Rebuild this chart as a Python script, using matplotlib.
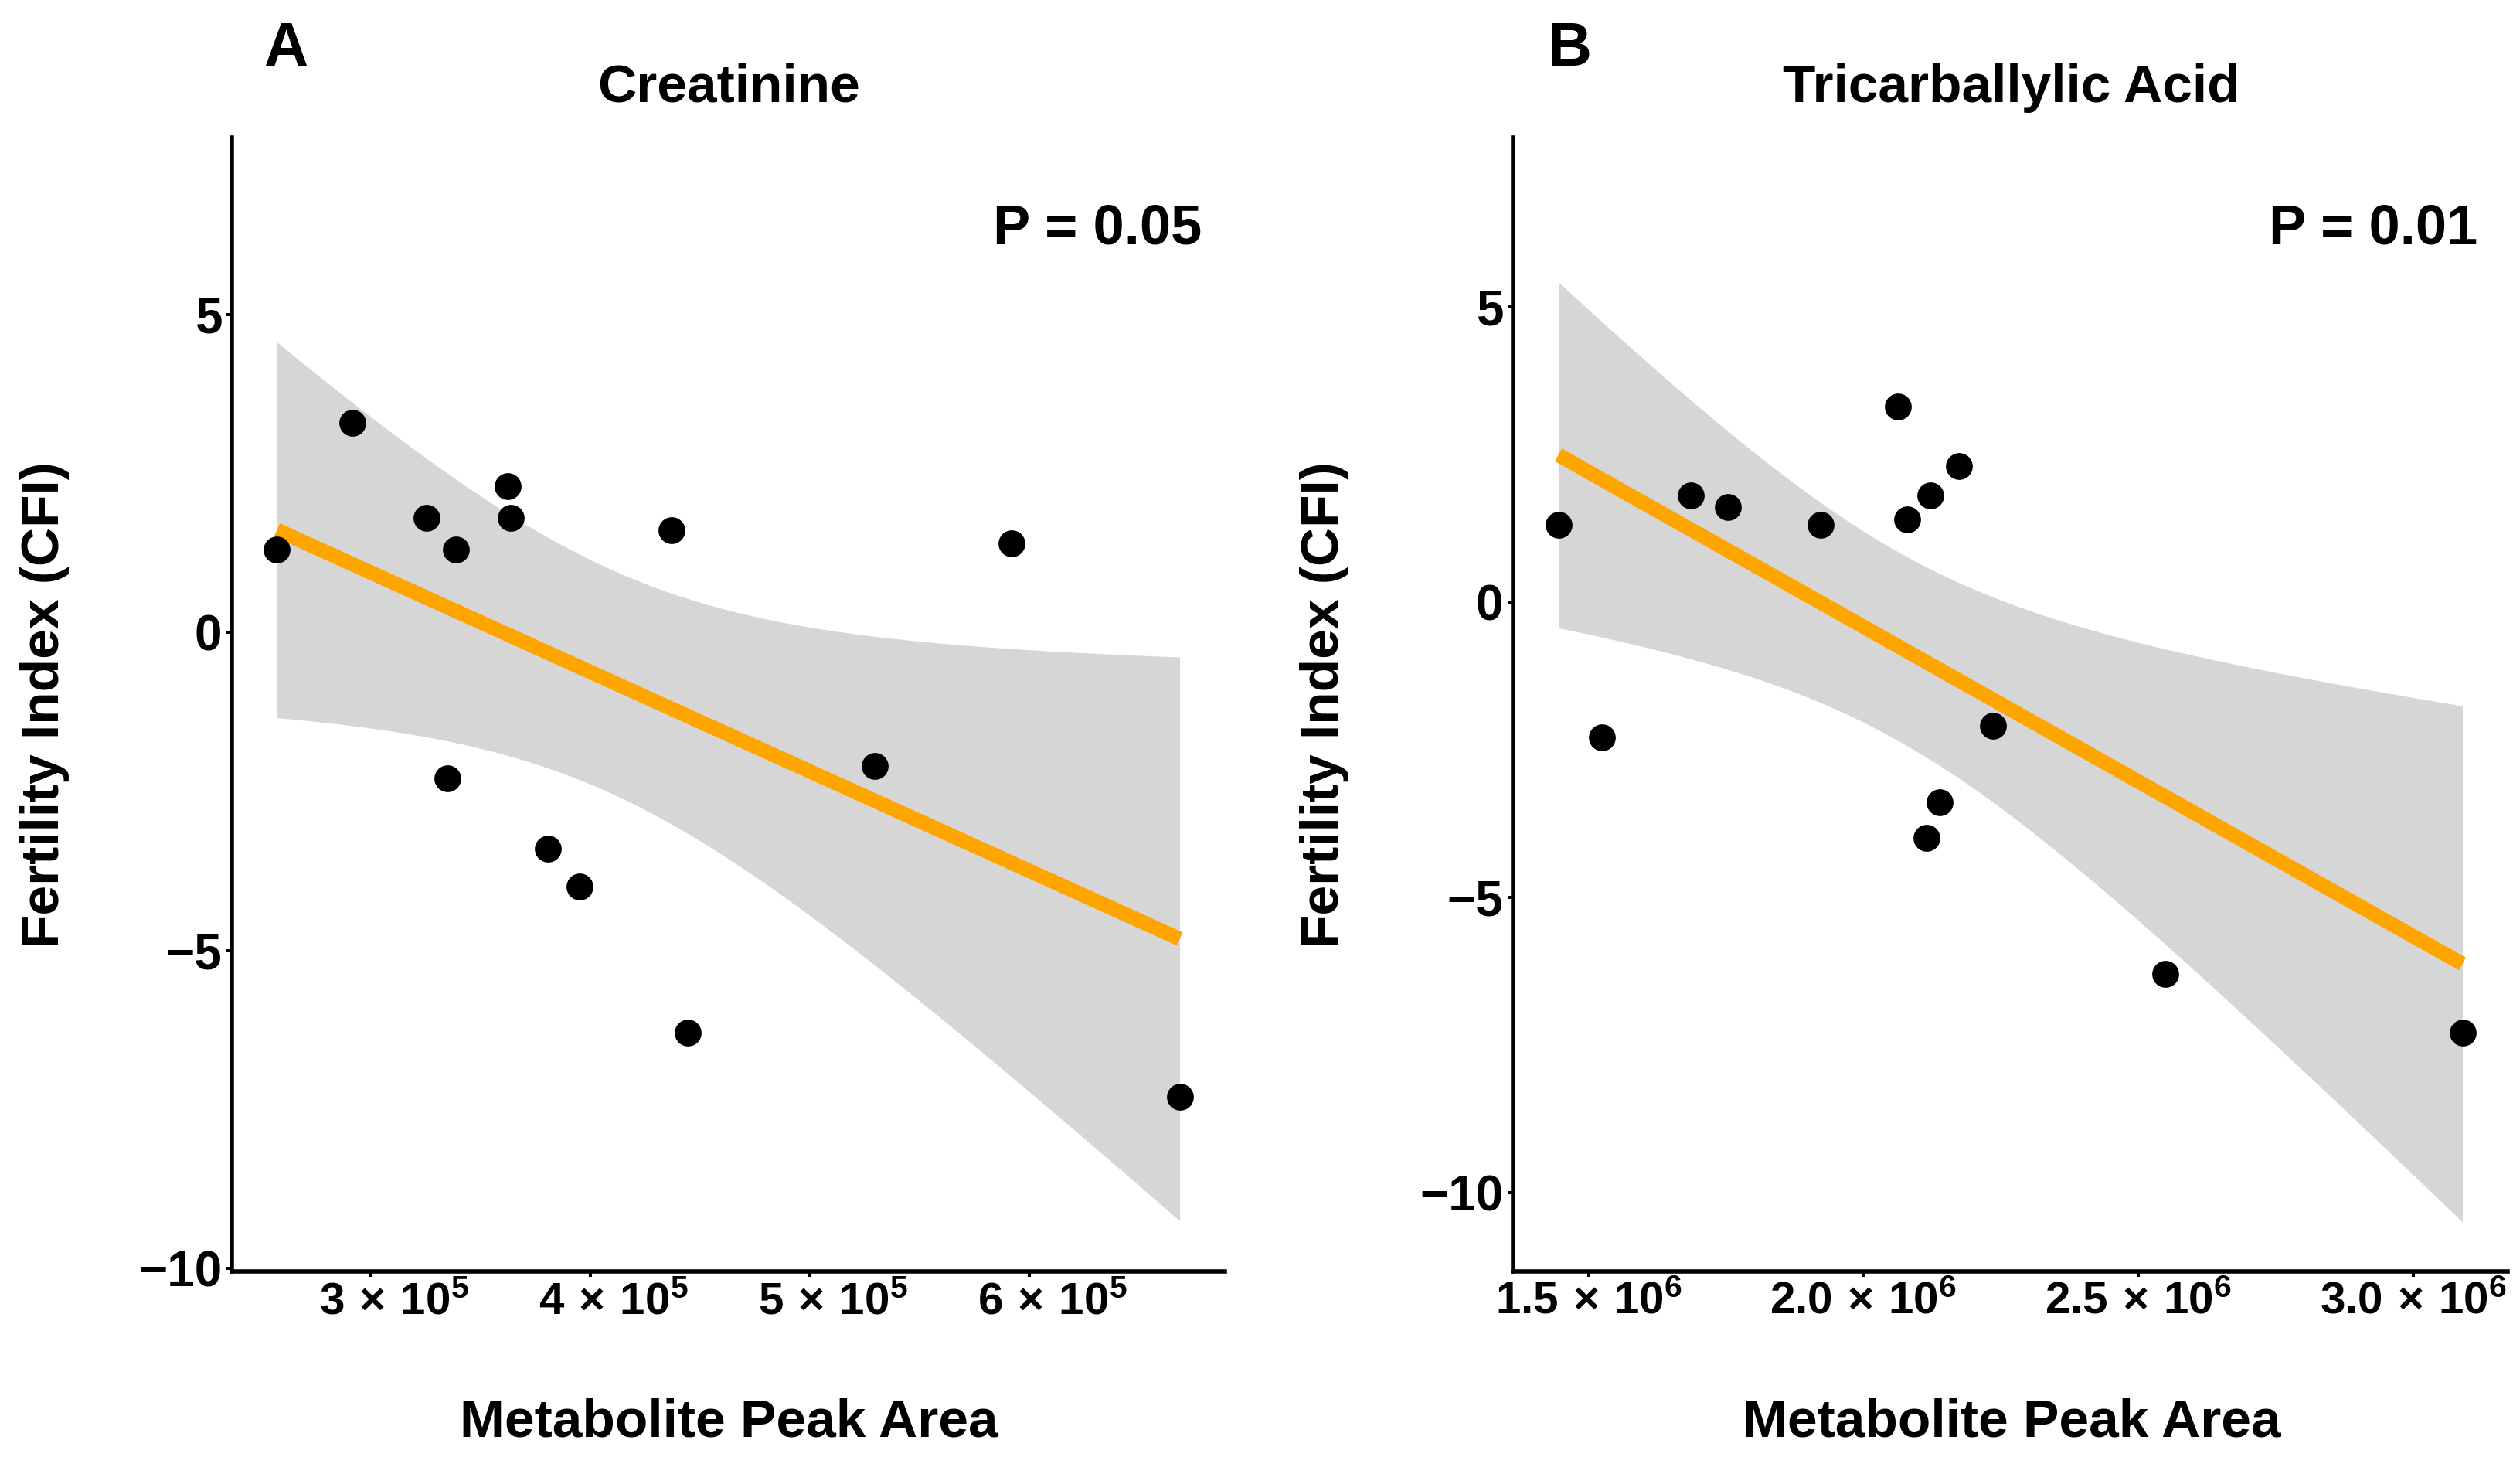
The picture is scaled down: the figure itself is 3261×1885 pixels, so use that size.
import numpy as np
import matplotlib.pyplot as plt
from matplotlib.transforms import ScaledTranslation

W, H = 3261, 1885
DPI = 100

# values
creatinine_area = [2.572e5, 2.917e5, 3.253e5, 3.388e5, 3.347e5, 3.622e5, 3.639e5,
                   3.806e5, 3.949e5, 4.370e5, 4.443e5, 5.294e5, 5.919e5, 6.685e5]
creatinine_cfi = [1.3, 3.3, 1.8, 1.3, -2.3, 2.3, 1.8, -3.4, -4.0, 1.6, -6.3, -2.1, 1.4, -7.3]

tca_area = [1.445e6, 1.525e6, 1.686e6, 1.754e6, 1.922e6, 2.062e6, 2.080e6,
            2.121e6, 2.173e6, 2.235e6, 2.138e6, 2.114e6, 2.549e6, 3.089e6]
tca_cfi = [1.3, -2.3, 1.8, 1.6, 1.3, 3.3, 1.4, 1.8, 2.3, -2.1, -3.4, -4.0, -6.3, -7.3]

creatinine_ticks = [3e5, 4e5, 5e5, 6e5]
creatinine_mant = ['3', '4', '5', '6']
creatinine_exp = 5
tca_ticks = [1.5e6, 2.0e6, 2.5e6, 3.0e6]
tca_mant = ['1.5', '2.0', '2.5', '3.0']
tca_exp = 6
y_ticks = [-10, -5, 0, 5]

plt.rcParams['font.family'] = ['Liberation Sans', 'DejaVu Sans']
plt.rcParams['font.weight'] = 'bold'
plt.rcParams['mathtext.fontset'] = 'custom'
plt.rcParams['mathtext.rm'] = 'Liberation Sans:bold'
plt.rcParams['mathtext.bf'] = 'Liberation Sans:bold'
plt.rcParams['mathtext.it'] = 'Liberation Sans:bold'


def px(x, y):
    return x / W, 1 - y / H


def sci_label(mant, exp):
    return r'$\mathbf{%s}\,\times\,\mathbf{10^{%d}}$' % (mant, exp)


def lm_band(x, y, t=2.17881):
    # linear fit with 95% confidence band, like geom_smooth(method = "lm")
    x = np.asarray(x)
    y = np.asarray(y)
    n = len(x)
    slope, icpt = np.polyfit(x, y, 1)
    xs = np.linspace(x.min(), x.max(), 80)
    fit = icpt + slope * xs
    resid = y - (icpt + slope * x)
    s = np.sqrt(np.sum(resid ** 2) / (n - 2))
    se = s * np.sqrt(1 / n + (xs - x.mean()) ** 2 / np.sum((x - x.mean()) ** 2))
    return xs, fit, fit - t * se, fit + t * se


def draw_panel(ax, x, y, ticks, mant, exp, ylim, label_shift=0):
    xs, fit, lo, hi = lm_band(x, y)
    ax.fill_between(xs, lo, hi, color='#D6D6D6', linewidth=0, zorder=1)
    ax.plot(xs, fit, color='#FFA500', lw=13.5, solid_capstyle='butt', zorder=2)
    ax.scatter(x, y, s=625, color='black', linewidths=0, zorder=3)

    pad = 0.05 * (max(x) - min(x))
    ax.set_xlim(min(x) - pad, max(x) + pad)
    ax.set_ylim(*ylim)
    ax.set_xticks(ticks)
    ax.set_xticklabels([sci_label(m, exp) for m in mant])
    ax.set_yticks(y_ticks)
    for side in ['top', 'right']:
        ax.spines[side].set_visible(False)
    for side in ['left', 'bottom']:
        ax.spines[side].set_linewidth(4)
    ax.tick_params(length=5.2, width=2.9, color='black')
    ax.tick_params(axis='x', labelsize=42, pad=4)
    ax.tick_params(axis='y', labelsize=46, pad=4)
    for lab in ax.get_yticklabels():
        lab.set_fontweight('bold')
    if label_shift:
        shift = ScaledTranslation(label_shift / DPI, 0, ax.figure.dpi_scale_trans)
        for lab in ax.get_xticklabels():
            lab.set_transform(lab.get_transform() + shift)


fig = plt.figure(figsize=(W / DPI, H / DPI), dpi=DPI)
ax_a = fig.add_axes([300 / W, 1 - 1645 / H, 1285 / W, 1467 / H])
ax_b = fig.add_axes([1958 / W, 1 - 1645 / H, 1287 / W, 1467 / H])

draw_panel(ax_a, creatinine_area, creatinine_cfi, creatinine_ticks, creatinine_mant,
           creatinine_exp, (-10.05, 7.78), label_shift=30)
draw_panel(ax_b, tca_area, tca_cfi, tca_ticks, tca_mant, tca_exp, (-11.34, 7.86))

# panel letters, titles, p values
fig.text(*px(341, 85), 'A', fontsize=57, fontweight='bold', va='baseline', ha='left')
fig.text(*px(2003, 85), 'B', fontsize=57, fontweight='bold', va='baseline', ha='left')
fig.text(*px(943, 132), 'Creatinine', fontsize=50, fontweight='bold', va='baseline', ha='center')
fig.text(*px(2603, 132), 'Tricarballylic Acid', fontsize=50, fontweight='bold', va='baseline', ha='center')
fig.text(*px(1555, 315), 'P = 0.05', fontsize=52, fontweight='bold', va='baseline', ha='right')
fig.text(*px(3206, 315), 'P = 0.01', fontsize=52, fontweight='bold', va='baseline', ha='right')

# axis titles
for cx in [943, 2603]:
    fig.text(*px(cx, 1858), 'Metabolite Peak Area', fontsize=50, fontweight='bold',
             va='baseline', ha='center')
for lx in [26, 1682]:
    fig.text(*px(lx, 912), 'Fertility Index (CFI)', fontsize=50, fontweight='bold',
             rotation=90, va='center', ha='left')

fig.savefig('out.png', dpi=DPI)
